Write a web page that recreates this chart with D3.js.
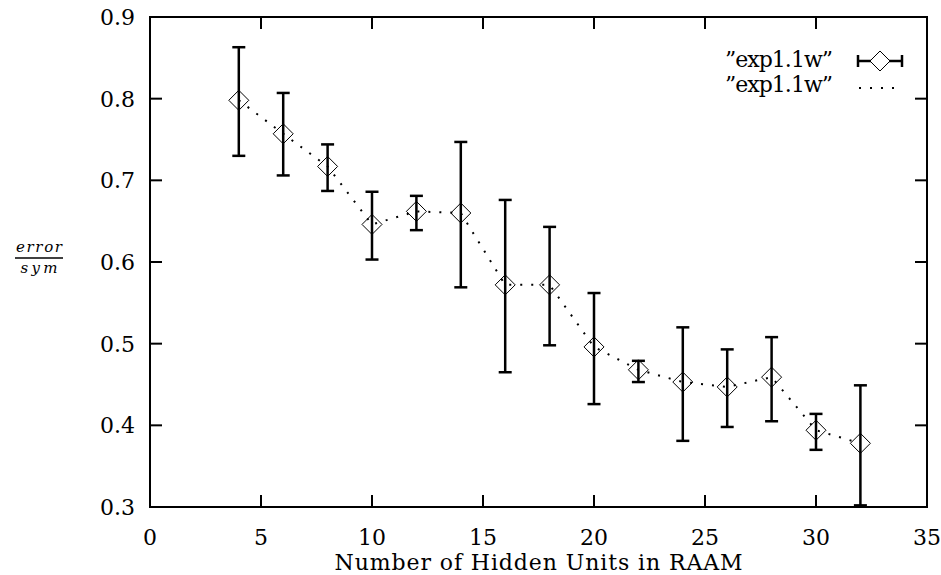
<!DOCTYPE html>
<html>
<head>
<meta charset="utf-8">
<script src="https://cdn.jsdelivr.net/npm/d3@7"></script>
<style>
  body { margin: 0; background: #fff; }
  text { font-family: "DejaVu Serif", serif; fill: #000; }
</style>
</head>
<body>
<div id="chart"></div>
<script>
// data
var hidden_units = [4, 6, 8, 10, 12, 14, 16, 18, 20, 22, 24, 26, 28, 30, 32];
var err_mean = [0.798, 0.757, 0.717, 0.646, 0.662, 0.660, 0.572, 0.572, 0.496, 0.468, 0.453, 0.447, 0.459, 0.394, 0.378];
var err_high = [0.863, 0.807, 0.744, 0.686, 0.681, 0.747, 0.676, 0.643, 0.562, 0.479, 0.520, 0.493, 0.508, 0.414, 0.449];
var err_low  = [0.730, 0.706, 0.687, 0.603, 0.639, 0.569, 0.465, 0.498, 0.426, 0.453, 0.381, 0.398, 0.405, 0.370, 0.302];
var x_ticks = [0, 5, 10, 15, 20, 25, 30, 35];
var y_ticks = [0.3, 0.4, 0.5, 0.6, 0.7, 0.8, 0.9];
var legend_labels = ['\u201Dexp1.1w\u201D', '\u201Dexp1.1w\u201D'];

var width = 941, height = 575;
// plot box (note: 'top' clashes with window.top, so prefix everything)
var p_left = 150, p_right = 927, p_top = 17, p_bottom = 507;
var tick_len = 12;
var cap = 6.5;
var font_size = 22;

var svg = d3.select('#chart').append('svg')
	.attr('width', width)
	.attr('height', height);

var x = d3.scaleLinear().domain([0, 35]).range([p_left, p_right]);
var y = d3.scaleLinear().domain([0.3, 0.9]).range([p_bottom, p_top]);

var points = hidden_units.map(function(d, i) {
	return { x: d, y: err_mean[i], hi: err_high[i], lo: err_low[i] };
});

// ticks on all four sides (gnuplot mirror style)
var ticks = svg.append('g').attr('stroke', '#000').attr('stroke-width', 2);
x_ticks.slice(1, -1).forEach(function(t) {
	ticks.append('line').attr('x1', x(t)).attr('x2', x(t)).attr('y1', p_bottom).attr('y2', p_bottom - tick_len);
	ticks.append('line').attr('x1', x(t)).attr('x2', x(t)).attr('y1', p_top).attr('y2', p_top + tick_len);
});
y_ticks.slice(1, -1).forEach(function(t) {
	ticks.append('line').attr('x1', p_left).attr('x2', p_left + tick_len).attr('y1', y(t)).attr('y2', y(t));
	ticks.append('line').attr('x1', p_right).attr('x2', p_right - tick_len).attr('y1', y(t)).attr('y2', y(t));
});

// tick labels
svg.append('g').selectAll('text')
	.data(x_ticks)
	.enter().append('text')
	.attr('x', d => x(d))
	.attr('y', 545)
	.attr('text-anchor', 'middle')
	.attr('font-size', font_size + 'px')
	.text(d => d);

svg.append('g').selectAll('text')
	.data(y_ticks)
	.enter().append('text')
	.attr('x', 135)
	.attr('y', d => y(d))
	.attr('dy', '0.36em')
	.attr('text-anchor', 'end')
	.attr('font-size', font_size + 'px')
	.text(d => d.toFixed(1));

// axis titles
svg.append('text')
	.attr('x', (p_left + p_right) / 2)
	.attr('y', 570)
	.attr('text-anchor', 'middle')
	.attr('font-size', font_size + 'px')
	.attr('textLength', 408)
	.text('Number of Hidden Units in RAAM');

var ylab = svg.append('g').attr('transform', 'translate(39,0)');
ylab.append('text')
	.attr('y', 252)
	.attr('text-anchor', 'middle')
	.attr('font-size', '15px')
	.attr('font-style', 'italic')
	.attr('textLength', 46)
	.text('error');
ylab.append('line')
	.attr('x1', -24).attr('x2', 24)
	.attr('y1', 258).attr('y2', 258)
	.attr('stroke', '#000').attr('stroke-width', 1.5);
ylab.append('text')
	.attr('y', 273)
	.attr('text-anchor', 'middle')
	.attr('font-size', '15px')
	.attr('font-style', 'italic')
	.attr('textLength', 37)
	.text('sym');

// dotted line through means
var line = d3.line().x(d => x(d.x)).y(d => y(d.y));
svg.append('path')
	.datum(points)
	.attr('d', line)
	.attr('fill', 'none')
	.attr('stroke', '#000')
	.attr('stroke-width', 2)
	.attr('stroke-dasharray', '2,9');

// error bars
var bars = svg.append('g').attr('stroke', '#000').attr('stroke-width', 2.5);
bars.selectAll('.stem')
	.data(points)
	.enter().append('line')
	.attr('x1', d => x(d.x)).attr('x2', d => x(d.x))
	.attr('y1', d => y(d.hi)).attr('y2', d => y(d.lo));
bars.selectAll('.capHi')
	.data(points)
	.enter().append('line')
	.attr('x1', d => x(d.x) - cap).attr('x2', d => x(d.x) + cap)
	.attr('y1', d => y(d.hi)).attr('y2', d => y(d.hi));
bars.selectAll('.capLo')
	.data(points)
	.enter().append('line')
	.attr('x1', d => x(d.x) - cap).attr('x2', d => x(d.x) + cap)
	.attr('y1', d => y(d.lo)).attr('y2', d => y(d.lo));

// diamonds
var diamond = 'M0,-10L10,0L0,10L-10,0Z';
svg.append('g').selectAll('path')
	.data(points)
	.enter().append('path')
	.attr('transform', d => 'translate(' + x(d.x) + ',' + y(d.y) + ')')
	.attr('d', diamond)
	.attr('fill', 'none')
	.attr('stroke', '#000')
	.attr('stroke-width', 1);

// legend
var lg = svg.append('g');
lg.selectAll('text')
	.data(legend_labels)
	.enter().append('text')
	.attr('x', 833)
	.attr('y', (d, i) => 67 + i * 25)
	.attr('text-anchor', 'end')
	.attr('font-size', font_size + 'px')
	.attr('textLength', 108)
	.text(d => d);
var lg1 = lg.append('g').attr('stroke', '#000').attr('stroke-width', 2.5);
lg1.append('line').attr('x1', 858).attr('x2', 902).attr('y1', 61).attr('y2', 61);
lg1.append('line').attr('x1', 858).attr('x2', 858).attr('y1', 55).attr('y2', 67);
lg1.append('line').attr('x1', 902).attr('x2', 902).attr('y1', 55).attr('y2', 67);
lg.append('path')
	.attr('transform', 'translate(880,61)')
	.attr('d', diamond)
	.attr('fill', '#fff')
	.attr('stroke', '#000')
	.attr('stroke-width', 1);
lg.append('line')
	.attr('x1', 859).attr('x2', 902)
	.attr('y1', 88).attr('y2', 88)
	.attr('stroke', '#000')
	.attr('stroke-width', 2)
	.attr('stroke-dasharray', '2,9');

// frame
svg.append('rect')
	.attr('x', p_left).attr('y', p_top)
	.attr('width', p_right - p_left).attr('height', p_bottom - p_top)
	.attr('fill', 'none')
	.attr('stroke', '#000')
	.attr('stroke-width', 2);
</script>
</body>
</html>
